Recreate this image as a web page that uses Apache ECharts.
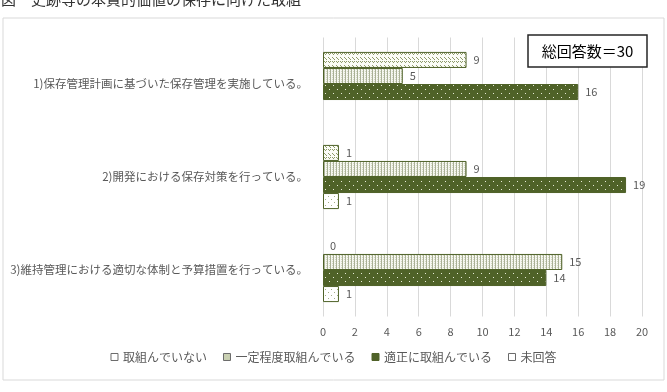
<!DOCTYPE html>
<html><head><meta charset="utf-8">
<script src="https://cdn.jsdelivr.net/npm/echarts@6/dist/echarts.min.js"></script>
<style>html,body{margin:0;padding:0;background:#fff}#c{width:667px;height:392px}</style>
</head><body><div id="c"></div>
<script>
const categories = ['1)保存管理計画に基づいた保存管理を実施している。','2)開発における保存対策を行っている。','3)維持管理における適切な体制と予算措置を行っている。'];
const seriesNames = ['取組んでいない','一定程度取組んでいる','適正に取組んでいる','未回答'];
const notDoing = [9, 1, 0];
const partly = [5, 9, 15];
const properly = [16, 19, 14];
const noAnswer = [null, 1, 1];
const xTicks = [0, 20, 2];
const titleText = '図　史跡等の本質的価値の保存に向けた取組';
const noteText = '総回答数＝30';

function pat(w, h, draw) {
  const c = document.createElement('canvas'); c.width = w; c.height = h;
  const x = c.getContext('2d'); draw(x); return { image: c, repeat: 'repeat' };
}
const olive = '#4F6228';
const pA = pat(4, 8, x => { x.fillStyle = '#fbfcf6'; x.fillRect(0,0,4,8); x.fillStyle = '#8d9a68';
  x.fillRect(0,1,1,1); x.fillRect(1,2,1,1); x.fillRect(2,3,1,1); x.fillRect(0,5,1,1); x.fillRect(1,6,1,1); x.fillRect(2,5,1,1);});
const pB = pat(3, 2, x => { x.fillStyle = '#f6f7f0'; x.fillRect(0,0,3,2); x.fillStyle = '#aab196'; x.fillRect(0,0,1,2); x.fillStyle='#d4d9c4'; x.fillRect(2,1,1,1);});
const pC = pat(8, 8, x => { x.fillStyle = olive; x.fillRect(0,0,8,8); x.fillStyle = '#e8ecd8'; x.fillRect(1,1,1,1); x.fillRect(5,5,1,1);});
const pD = pat(6, 6, x => { x.fillStyle = '#fff'; x.fillRect(0,0,6,6); x.fillStyle = '#a3ad86'; x.fillRect(1,1,1,1); x.fillRect(4,4,1,1);});
const fills = [pA, pB, pC, pD];
const legendFills = ['#ffffff', '#c9d0b2', olive, '#ffffff'];
const datas = [notDoing, partly, properly, noAnswer];

const chart = echarts.init(document.getElementById('c'));
const font = '"Noto Sans CJK JP", sans-serif';
chart.setOption({
  animation: false,
  textStyle: { fontFamily: font },
  grid: { left: 323, right: 25, top: 37.5, bottom: 75.5 },
  legend: {
    bottom: 24, left: 'center', itemWidth: 7, itemHeight: 7, itemGap: 16, icon: 'rect',
    textStyle: { color: '#595959', fontSize: 12, fontFamily: font },
    data: seriesNames.map((n, i) => ({ name: n, itemStyle: { color: legendFills[i], borderColor: i === 2 ? olive : '#6b6b6b', borderWidth: 1 } }))
  },
  xAxis: {
    type: 'value', min: xTicks[0], max: xTicks[1], interval: xTicks[2],
    axisLine: { show: false }, axisTick: { show: false },
    splitLine: { lineStyle: { color: '#d9d9d9' } },
    axisLabel: { color: '#595959', fontSize: 11, margin: 10 }
  },
  yAxis: {
    type: 'category', data: categories, inverse: true,
    axisLine: { show: false }, axisTick: { show: false },
    axisLabel: { color: '#595959', fontSize: 11.5, margin: 15 }
  },
  series: seriesNames.map((n, i) => ({
    name: n, type: 'bar', barGap: '0%', barCategoryGap: '31%',
    data: datas[i].map(v => v === 0 ? { value: 0, itemStyle: { borderWidth: 0 } } : v),
    itemStyle: { color: fills[i], borderColor: olive, borderWidth: 1 },
    label: { show: true, position: 'right', distance: 7, color: '#595959', fontSize: 11 }
  })),
  graphic: [
    { type: 'rect', shape: { x: 3, y: 18, width: 661, height: 362 }, style: { fill: 'none', stroke: '#d9d9d9', lineWidth: 1 }, z: -1 },
    { type: 'text', left: 1, top: -8, style: { text: titleText, font: '15px ' + font, fill: '#333' } },
    { type: 'rect', shape: { x: 528, y: 35, width: 119, height: 32 }, style: { fill: '#fff', stroke: '#262626', lineWidth: 1.5 }, z: 10 },
    { type: 'text', x: 587.5, y: 51, style: { text: noteText, font: '15px ' + font, fill: '#000', align: 'center', verticalAlign: 'middle' }, z: 11 }
  ]
});
</script></body></html>
